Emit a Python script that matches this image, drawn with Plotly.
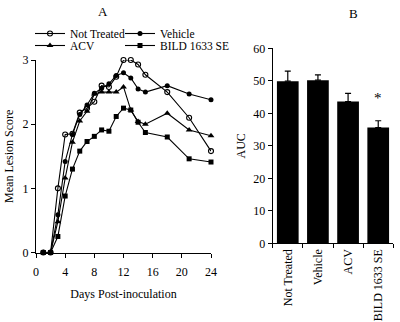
import plotly.graph_objects as go

days = [1, 2, 3, 4, 5, 6, 7, 8, 9, 10, 11, 12, 13, 14, 15, 18, 21, 24]
not_treated = [0, 0, 1.0, 1.84, 1.85, 2.18, 2.25, 2.35, 2.6, 2.58, 2.74, 3.0, 3.0, 2.93, 2.77, 2.5, 2.1, 1.58]
vehicle = [0, 0, 0.59, 1.42, 1.84, 2.15, 2.3, 2.48, 2.56, 2.63, 2.76, 2.8, 2.72, 2.55, 2.5, 2.6, 2.47, 2.38]
acv = [0, 0, 0.48, 1.16, 1.72, 2.05, 2.2, 2.47, 2.5, 2.5, 2.5, 2.58, 2.22, 2.04, 2.0, 2.17, 1.91, 1.82]
bild = [0, 0, 0.25, 0.88, 1.3, 1.58, 1.73, 1.81, 1.91, 1.89, 2.12, 2.25, 2.22, 2.03, 1.87, 1.8, 1.46, 1.41]

groups = ["Not Treated", "Vehicle", "ACV", "BILD 1633 SE"]
auc = [49.9, 50.2, 43.6, 35.6]
auc_err = [3.1, 1.6, 2.5, 2.1]

FONT = "Liberation Serif"
fig = go.Figure()

series = [
    ("Not Treated", not_treated, dict(symbol="circle-open", size=5, color="black", line=dict(width=1.1, color="black")), "legend"),
    ("Vehicle", vehicle, dict(symbol="circle", size=5, color="black"), "legend2"),
    ("ACV", acv, dict(symbol="triangle-up", size=6, color="black"), "legend3"),
    ("BILD 1633 SE", bild, dict(symbol="square", size=5, color="black"), "legend4"),
]
for name, vals, mk, lg in series:
    fig.add_trace(go.Scatter(x=days, y=vals, mode="lines+markers", name=name,
                             line=dict(color="black", width=1.1), marker=mk, cliponaxis=False,
                             legend=lg, xaxis="x", yaxis="y"))

fig.add_trace(go.Bar(x=groups, y=auc, marker=dict(color="black", line=dict(width=0)),
                     error_y=dict(type="data", array=auc_err, arrayminus=[0]*4, symmetric=False,
                                  color="black", thickness=1.2, width=3),
                     showlegend=False, xaxis="x2", yaxis="y2"))

fig.add_annotation(x=groups[3], y=auc[3] + auc_err[3] + 7, text="*", showarrow=False,
                   xref="x2", yref="y2", font=dict(size=15, family=FONT, color="#000000"))
fig.add_annotation(x=96/400, y=1 - 11/322, xref="paper", yref="paper", text="A", showarrow=False,
                   yanchor="middle", font=dict(size=13, family=FONT, color="black"))
fig.add_annotation(x=360/400, y=1 - 14/322, xref="paper", yref="paper", text="B", showarrow=False,
                   yanchor="middle", font=dict(size=13, family=FONT, color="black"))

ax_common = dict(showline=True, linecolor="black", linewidth=1.2, ticks="outside",
                 tickcolor="black", ticklen=4, tickwidth=1.2, showgrid=False, zeroline=False,
                 automargin=False, tickfont=dict(family=FONT, size=12, color="black"))

legend_common = dict(orientation="h", xanchor="left", yanchor="top", itemwidth=30,
                     font=dict(family=FONT, size=11.5, color="black"), bgcolor="rgba(0,0,0,0)")

fig.update_layout(
    width=400, height=322,
    margin=dict(l=0, r=0, t=0, b=0, autoexpand=False),
    paper_bgcolor="white", plot_bgcolor="white",
    font=dict(family=FONT, size=12, color="black"),
    xaxis=dict(domain=[36/400, 211/400], range=[0, 24], tickvals=[0, 4, 8, 12, 16, 20, 24],
               anchor="y", ticklabelstandoff=4,
               title=dict(text="Days Post-inoculation", font=dict(family=FONT, size=12), standoff=11),
               **ax_common),
    yaxis=dict(domain=[69.5/322, 262/322], range=[0, 3], tickvals=[0, 1, 2, 3], anchor="x",
               title=dict(text="Mean Lesion Score", font=dict(family=FONT, size=12), standoff=6),
               **ax_common),
    xaxis2=dict(domain=[272.7/400, 393.3/400], anchor="y2", tickangle=-90,
                tickfont=dict(family=FONT, size=12, color="black"), automargin=False,
                showline=True, linecolor="black", linewidth=1.2, ticks="outside", tickson="boundaries",
                ticklen=4, tickwidth=1.2, tickcolor="black", showgrid=False),
    yaxis2=dict(domain=[78.7/322, 273.7/322], range=[0, 60], tickvals=[0, 10, 20, 30, 40, 50, 60],
                anchor="x2",
                title=dict(text="AUC", font=dict(family=FONT, size=12), standoff=4),
                **ax_common),
    bargap=0.28,
    legend=dict(x=30/400, y=1 - 19/322, **legend_common),
    legend2=dict(x=120/400, y=1 - 19/322, **legend_common),
    legend3=dict(x=30/400, y=1 - 31/322, **legend_common),
    legend4=dict(x=120/400, y=1 - 31/322, **legend_common),
)

fig.write_html("out.html")
